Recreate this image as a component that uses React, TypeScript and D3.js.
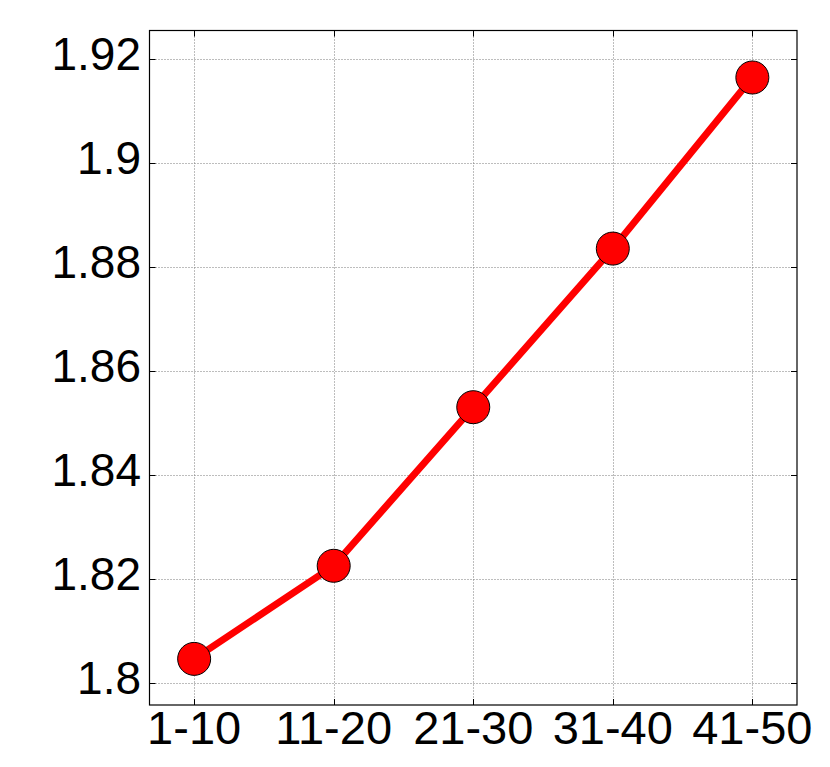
import React from 'react';
import * as d3 from 'd3';

const categories = ['1-10', '11-20', '21-30', '31-40', '41-50'];
const values = [1.8047, 1.8226, 1.8531, 1.8836, 1.9165];
const yTicks = [1.8, 1.82, 1.84, 1.86, 1.88, 1.9, 1.92];

const width = 830;
const height = 767;
const margin = { top: 30.5, right: 33, bottom: 62, left: 149.5 };

const App = () => {
  const x = d3.scaleLinear()
    .domain([-0.32, categories.length - 1 + 0.32])
    .range([margin.left, width - margin.right]);

  const y = d3.scaleLinear()
    .domain([1.79583, 1.92554])
    .range([height - margin.bottom, margin.top]);

  const line = d3.line<number>()
    .x((d, i) => x(i))
    .y(d => y(d));

  const left = margin.left;
  const right = width - margin.right;
  const top = margin.top;
  const bottom = height - margin.bottom;
  const tickLen = 6;
  const font = '"Liberation Sans", Arial, Helvetica, sans-serif';

  return (
    <svg width={width} height={height} style={{ display: 'block', position: 'absolute', left: 0, top: 0, background: '#fff' }}>
      {/* grid */}
      <g stroke="#7a7a7a" strokeWidth={1} strokeDasharray="1,2">
        {yTicks.map(t => (
          <line key={'gy' + t} x1={left} x2={right} y1={Math.round(y(t)) + 0.5} y2={Math.round(y(t)) + 0.5} />
        ))}
        {categories.map((c, i) => (
          <line key={'gx' + c} x1={Math.round(x(i)) + 0.5} x2={Math.round(x(i)) + 0.5} y1={top} y2={bottom} />
        ))}
      </g>

      {/* ticks, pointing inward */}
      <g stroke="#000" strokeWidth={1}>
        {yTicks.map(t => (
          <g key={'ty' + t}>
            <line x1={left} x2={left + tickLen} y1={Math.round(y(t)) + 0.5} y2={Math.round(y(t)) + 0.5} />
            <line x1={right - tickLen} x2={right} y1={Math.round(y(t)) + 0.5} y2={Math.round(y(t)) + 0.5} />
          </g>
        ))}
        {categories.map((c, i) => (
          <g key={'tx' + c}>
            <line x1={Math.round(x(i)) + 0.5} x2={Math.round(x(i)) + 0.5} y1={bottom} y2={bottom - tickLen} />
            <line x1={Math.round(x(i)) + 0.5} x2={Math.round(x(i)) + 0.5} y1={top} y2={top + tickLen} />
          </g>
        ))}
      </g>

      {/* data */}
      <path d={line(values) || ''} fill="none" stroke="#ff0000" strokeWidth={7} strokeLinejoin="round" />
      {values.map((v, i) => (
        <circle key={'p' + i} cx={x(i)} cy={y(v)} r={16.5} fill="#ff0000" stroke="#000" strokeWidth={1} />
      ))}

      {/* frame */}
      <rect x={left} y={top} width={right - left} height={bottom - top} fill="none" stroke="#000" strokeWidth={1.2} />

      {/* y labels */}
      <g fontFamily={font} fontSize={46} fill="#000" textAnchor="end">
        {yTicks.map(t => (
          <text key={'ly' + t} x={left - 8.5} y={y(t) + 11}>{d3.format('')(+t.toFixed(2))}</text>
        ))}
      </g>

      {/* x labels */}
      <g fontFamily={font} fontSize={47} fill="#000" textAnchor="middle">
        {categories.map((c, i) => (
          <text key={'lx' + c} x={x(i)} y={bottom + 38.5}>{c}</text>
        ))}
      </g>
    </svg>
  );
};

export default App;
